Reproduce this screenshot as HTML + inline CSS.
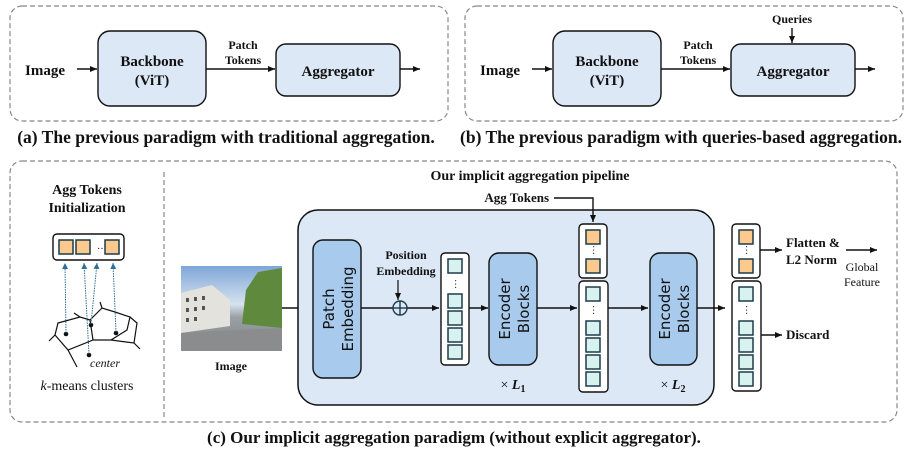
<!DOCTYPE html>
<html><head><meta charset="utf-8"><style>
html,body{margin:0;padding:0;background:#fff;}
svg{display:block;}
text{font-family:"Liberation Serif",serif;fill:#111;}
.b{font-weight:bold;}
.s{font-family:"DejaVu Sans","Liberation Sans",sans-serif;font-weight:normal;}
</style></head><body>
<svg width="907" height="454" viewBox="0 0 907 454" xmlns="http://www.w3.org/2000/svg">
<defs>
<marker id="ar" markerWidth="8" markerHeight="8" refX="7" refY="4" orient="auto" markerUnits="userSpaceOnUse"><path d="M0,1 L7,4 L0,7 Z" fill="#111"/></marker>
<marker id="ab" markerWidth="8" markerHeight="8" refX="6" refY="3.5" orient="auto" markerUnits="userSpaceOnUse"><path d="M0,0.5 L6,3.5 L0,6.5 Z" fill="#2f6f95"/></marker>
<g id="top">
<rect x="10" y="6" width="438" height="115" rx="12" fill="none" stroke="#888" stroke-width="1.2" stroke-dasharray="5,3"/>
<text x="25" y="75" class="b" font-size="15">Image</text>
<line x1="77" y1="69" x2="97" y2="69" stroke="#111" stroke-width="1.4" marker-end="url(#ar)"/>
<rect x="98" y="31" width="108" height="75" rx="12" fill="#dce8f6" stroke="#111" stroke-width="1.4"/>
<text x="152" y="66" text-anchor="middle" class="b" font-size="15">Backbone</text>
<text x="152" y="85" text-anchor="middle" class="b" font-size="15">(ViT)</text>
<line x1="206" y1="69" x2="275" y2="69" stroke="#111" stroke-width="1.4" marker-end="url(#ar)"/>
<text x="243" y="49" text-anchor="middle" class="b" font-size="12">Patch</text>
<text x="243" y="64" text-anchor="middle" class="b" font-size="12">Tokens</text>
<rect x="276" y="44" width="124" height="52" rx="10" fill="#dce8f6" stroke="#111" stroke-width="1.4"/>
<text x="338" y="76" text-anchor="middle" class="b" font-size="15">Aggregator</text>
<line x1="400" y1="69" x2="420" y2="69" stroke="#111" stroke-width="1.4" marker-end="url(#ar)"/>
</g>
<g id="sq"><rect x="0" y="0" width="14" height="14" fill="#d8f3ef" stroke="#1d3b4a" stroke-width="1.5"/></g>
<g id="oq"><rect x="0" y="0" width="14" height="14" fill="#fcc98e" stroke="#1d3b4a" stroke-width="1.5"/></g>
</defs>

<use href="#top"/>
<text x="226" y="143" text-anchor="middle" class="b" font-size="17.5">(a) The previous paradigm with traditional aggregation.</text>
<use href="#top" transform="translate(455,0)"/>
<text x="792" y="23" text-anchor="middle" class="b" font-size="12">Queries</text>
<line x1="792" y1="28" x2="792" y2="43" stroke="#111" stroke-width="1.4" marker-end="url(#ar)"/>
<text x="681" y="143" text-anchor="middle" class="b" font-size="17.5">(b) The previous paradigm with queries-based aggregation.</text>

<!-- (c) -->
<rect x="10" y="161" width="887" height="261" rx="12" fill="none" stroke="#888" stroke-width="1.2" stroke-dasharray="5,3"/>
<line x1="164" y1="172" x2="164" y2="420" stroke="#888" stroke-width="1.2" stroke-dasharray="5,3"/>
<text x="87" y="194" text-anchor="middle" class="b" font-size="14">Agg Tokens</text>
<text x="87" y="212" text-anchor="middle" class="b" font-size="14">Initialization</text>
<rect x="53" y="234" width="71" height="26" rx="4" fill="#fff" stroke="#111" stroke-width="1.4"/>
<use href="#oq" transform="translate(59,240)"/>
<use href="#oq" transform="translate(76,240)"/>
<text x="97" y="252" font-size="10">···</text>
<use href="#oq" transform="translate(105,240)"/>
<g stroke="#111" stroke-width="1.2" fill="none">
<path d="M58,323 L80,317 L90,320 L93,340 L68,350 L55,335 Z"/>
<path d="M90,320 L102,308 L115,312 L130,317 L127,330 L111,340 L93,340"/>
<path d="M102,308 L100,302"/><path d="M130,317 L137,323 L134,343 L111,340"/><path d="M80,317 L74,313"/>
<path d="M55,335 L49,341"/><path d="M68,350 L77,367"/><path d="M134,343 L140,349"/>
</g>
<g fill="#111"><circle cx="66" cy="334" r="2.3"/><circle cx="91" cy="325" r="2.3"/><circle cx="116" cy="333" r="2.3"/><circle cx="89" cy="355" r="2.3"/></g>
<g stroke="#2f6f95" stroke-width="1" stroke-dasharray="1.5,1">
<line x1="66" y1="333" x2="65" y2="263" marker-end="url(#ab)"/>
<line x1="89" y1="354" x2="84" y2="263" marker-end="url(#ab)"/>
<line x1="91" y1="324" x2="97" y2="263" marker-end="url(#ab)"/>
<line x1="116" y1="332" x2="113" y2="263" marker-end="url(#ab)"/>
</g>
<text x="90" y="367" font-size="12" font-style="italic">center</text>
<text x="87" y="390" text-anchor="middle" font-size="14"><tspan font-style="italic">k</tspan>-means clusters</text>

<!-- image -->
<defs><linearGradient id="sky" x1="0" y1="0" x2="0" y2="1"><stop offset="0" stop-color="#7fa6d8"/><stop offset="0.45" stop-color="#d6e2ee"/><stop offset="0.6" stop-color="#9aa1a6"/><stop offset="1" stop-color="#7d8083"/></linearGradient></defs>
<rect x="181" y="266" width="101" height="85" fill="url(#sky)"/>
<polygon points="181,293 212,285 230,300 230,326 181,333" fill="#e4e2dc"/>
<g fill="#555"><rect x="186" y="298" width="3" height="4"/><rect x="194" y="297" width="3" height="4"/><rect x="202" y="296" width="3" height="4"/><rect x="186" y="308" width="3" height="4"/><rect x="194" y="307" width="3" height="4"/><rect x="202" y="306" width="3" height="4"/><rect x="186" y="318" width="3" height="4"/><rect x="194" y="317" width="3" height="4"/></g>
<polygon points="246,290 258,272 282,268 282,328 242,324" fill="#5f8a3e"/>
<polygon points="181,333 282,328 282,351 181,351" fill="#8a8c8e"/>
<text x="231" y="370" text-anchor="middle" class="b" font-size="12">Image</text>
<line x1="282" y1="308" x2="312" y2="308" stroke="#111" stroke-width="1.4" marker-end="url(#ar)"/>

<text x="530" y="180" text-anchor="middle" class="b" font-size="14">Our implicit aggregation pipeline</text>
<rect x="298" y="210" width="416" height="195" rx="20" fill="#dce8f6" stroke="#111" stroke-width="1.5"/>
<text x="549" y="202" text-anchor="end" class="b" font-size="13">Agg Tokens</text>
<path d="M554,198 L593,198 L593,222" fill="none" stroke="#111" stroke-width="1.4" marker-end="url(#ar)"/>

<rect x="313" y="240" width="48" height="138" rx="10" fill="#a8caed" stroke="#111" stroke-width="1.4"/>
<text transform="translate(337,309) rotate(-90)" text-anchor="middle" class="s" font-size="15"><tspan x="0" dy="-3">Patch</tspan><tspan x="0" dy="19">Embedding</tspan></text>
<text x="406" y="259" text-anchor="middle" class="b" font-size="12">Position</text>
<text x="406" y="275" text-anchor="middle" class="b" font-size="12">Embedding</text>
<line x1="398" y1="280" x2="398" y2="300" stroke="#111" stroke-width="1.2" marker-end="url(#ar)"/>
<line x1="361" y1="308" x2="439" y2="308" stroke="#111" stroke-width="1.4" marker-end="url(#ar)"/>
<circle cx="400" cy="308" r="7" fill="#dce8f6" stroke="#1d3b4a" stroke-width="1.4"/>
<line x1="393" y1="308" x2="407" y2="308" stroke="#1d3b4a" stroke-width="1.4"/><line x1="400" y1="301" x2="400" y2="315" stroke="#1d3b4a" stroke-width="1.4"/>

<!-- column1 -->
<rect x="441" y="253" width="28" height="112" rx="4" fill="#fff" stroke="#111" stroke-width="1.4"/>
<use href="#sq" transform="translate(448,259)"/>
<text x="455" y="287" text-anchor="middle" font-size="10" transform="rotate(90 455 284)">···</text>
<use href="#sq" transform="translate(448,294)"/><use href="#sq" transform="translate(448,311)"/><use href="#sq" transform="translate(448,328)"/><use href="#sq" transform="translate(448,345)"/>
<line x1="469" y1="308" x2="488" y2="308" stroke="#111" stroke-width="1.4" marker-end="url(#ar)"/>

<rect x="489" y="253" width="48" height="112" rx="10" fill="#a8caed" stroke="#111" stroke-width="1.4"/>
<text transform="translate(513,309) rotate(-90)" text-anchor="middle" class="s" font-size="15"><tspan x="0" dy="-3">Encoder</tspan><tspan x="0" dy="19">Blocks</tspan></text>
<text x="513" y="389" text-anchor="middle" font-size="14">× <tspan font-weight="bold" font-style="italic">L</tspan><tspan font-weight="bold" font-size="10" dy="3">1</tspan></text>
<line x1="537" y1="308" x2="577" y2="308" stroke="#111" stroke-width="1.4" marker-end="url(#ar)"/>

<!-- column2 -->
<rect x="579" y="224" width="28" height="54" rx="4" fill="#fff" stroke="#111" stroke-width="1.4"/>
<use href="#oq" transform="translate(586,230)"/>
<text x="593" y="253" text-anchor="middle" font-size="10" transform="rotate(90 593 250)">···</text>
<use href="#oq" transform="translate(586,259)"/>
<rect x="579" y="281" width="29" height="111" rx="4" fill="#fff" stroke="#111" stroke-width="1.4"/>
<use href="#sq" transform="translate(586,287)"/>
<text x="593" y="313" text-anchor="middle" font-size="10" transform="rotate(90 593 310)">···</text>
<use href="#sq" transform="translate(586,321)"/><use href="#sq" transform="translate(586,338)"/><use href="#sq" transform="translate(586,355)"/><use href="#sq" transform="translate(586,372)"/>
<line x1="608" y1="308" x2="648" y2="308" stroke="#111" stroke-width="1.4" marker-end="url(#ar)"/>

<rect x="650" y="253" width="47" height="112" rx="10" fill="#a8caed" stroke="#111" stroke-width="1.4"/>
<text transform="translate(673,309) rotate(-90)" text-anchor="middle" class="s" font-size="15"><tspan x="0" dy="-3">Encoder</tspan><tspan x="0" dy="19">Blocks</tspan></text>
<text x="673" y="389" text-anchor="middle" font-size="14">× <tspan font-weight="bold" font-style="italic">L</tspan><tspan font-weight="bold" font-size="10" dy="3">2</tspan></text>
<line x1="697" y1="308" x2="725" y2="308" stroke="#111" stroke-width="1.4" marker-end="url(#ar)"/>

<!-- column3 -->
<rect x="732" y="224" width="28" height="54" rx="4" fill="#fff" stroke="#111" stroke-width="1.4"/>
<use href="#oq" transform="translate(739,230)"/>
<text x="746" y="253" text-anchor="middle" font-size="10" transform="rotate(90 746 250)">···</text>
<use href="#oq" transform="translate(739,259)"/>
<rect x="732" y="281" width="29" height="110" rx="4" fill="#fff" stroke="#111" stroke-width="1.4"/>
<use href="#sq" transform="translate(739,287)"/>
<text x="746" y="313" text-anchor="middle" font-size="10" transform="rotate(90 746 310)">···</text>
<use href="#sq" transform="translate(739,321)"/><use href="#sq" transform="translate(739,338)"/><use href="#sq" transform="translate(739,355)"/><use href="#sq" transform="translate(739,372)"/>
<line x1="760" y1="250" x2="782" y2="250" stroke="#111" stroke-width="1.4" marker-end="url(#ar)"/>
<text x="786" y="247" class="b" font-size="13">Flatten &amp;</text>
<text x="786" y="264" class="b" font-size="13">L2 Norm</text>
<line x1="846" y1="250" x2="877" y2="250" stroke="#111" stroke-width="1.4" marker-end="url(#ar)"/>
<text x="862" y="271" text-anchor="middle" font-size="12">Global</text>
<text x="862" y="286" text-anchor="middle" font-size="12">Feature</text>
<line x1="761" y1="335" x2="782" y2="335" stroke="#111" stroke-width="1.4" marker-end="url(#ar)"/>
<text x="786" y="339" class="b" font-size="13">Discard</text>

<text x="454" y="443" text-anchor="middle" class="b" font-size="17">(c) Our implicit aggregation paradigm (without explicit aggregator).</text>
</svg>
</body></html>
